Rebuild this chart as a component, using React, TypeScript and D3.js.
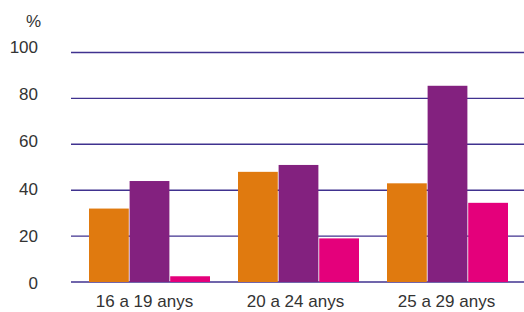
import React, { useEffect, useRef } from 'react';
import * as d3 from 'd3';

const categories = ['16 a 19 anys', '20 a 24 anys', '25 a 29 anys'];
const seriesNames = ['A', 'B', 'C'];
const seriesA = [32, 48, 43];
const seriesB = [44, 51, 85.5];
const seriesC = [2.5, 19, 34.5];
const yTicks = [0, 20, 40, 60, 80, 100];
const colors = ['#e07a0f', '#83217f', '#e4007b'];

const width = 524;
const height = 312;
const margin = { top: 52.5, right: 2, bottom: 30, left: 71 };
const font = 'Liberation Sans, Arial, sans-serif';

export default function App() {
  const ref = useRef<SVGSVGElement>(null);

  useEffect(() => {
    const svg = d3.select(ref.current);
    svg.selectAll('*').remove();

    const y = d3.scaleLinear().domain([0, 100]).range([282, margin.top]);
    // tick labels sit on a slightly wider spacing than the grid
    const yLabel = d3.scaleLinear().domain([0, 100]).range([289, 53]);
    const x = d3.scaleBand().domain(categories).range([75, 522]);
    const xLabel = d3.scaleBand().domain(categories).range([69, 522]);
    const x1 = d3.scaleBand().domain(seriesNames).range([0, 121]).paddingInner(0.02);
    const values = [seriesA, seriesB, seriesC];

    // grid lines
    svg.append('g')
      .selectAll('line')
      .data(yTicks)
      .join('line')
      .attr('x1', margin.left)
      .attr('x2', width)
      .attr('y1', d => y(d))
      .attr('y2', d => y(d))
      .attr('stroke', '#40328f')
      .attr('stroke-width', 1.4);

    // y labels
    svg.append('g')
      .selectAll('text')
      .data(yTicks)
      .join('text')
      .attr('x', 38)
      .attr('y', d => yLabel(d))
      .attr('text-anchor', 'end')
      .attr('font-family', font)
      .attr('font-size', 17)
      .attr('fill', '#333')
      .text(d => d);

    svg.append('text')
      .attr('x', 41)
      .attr('y', 27)
      .attr('text-anchor', 'end')
      .attr('font-family', font)
      .attr('font-size', 17)
      .attr('fill', '#333')
      .text('%');

    // bars
    const groups = svg.append('g')
      .selectAll('g')
      .data(categories)
      .join('g')
      .attr('transform', d => `translate(${x(d)! + (x.bandwidth() - 121) / 2},0)`);

    groups.selectAll('rect')
      .data((_, i) => seriesNames.map((s, j) => ({ s, v: values[j][i], j })))
      .join('rect')
      .attr('x', d => x1(d.s)!)
      .attr('width', x1.bandwidth())
      .attr('y', d => y(d.v))
      .attr('height', d => y(0) - y(d.v))
      .attr('fill', d => colors[d.j]);

    // x labels
    svg.append('g')
      .selectAll('text')
      .data(categories)
      .join('text')
      .attr('x', d => xLabel(d)! + xLabel.bandwidth() / 2)
      .attr('y', 307)
      .attr('text-anchor', 'middle')
      .attr('font-family', font)
      .attr('font-size', 17)
      .attr('fill', '#333')
      .text(d => d);
  }, []);

  return (
    <svg ref={ref} width={width} height={height} style={{ position: 'absolute', left: 0, top: 0 }} />
  );
}
